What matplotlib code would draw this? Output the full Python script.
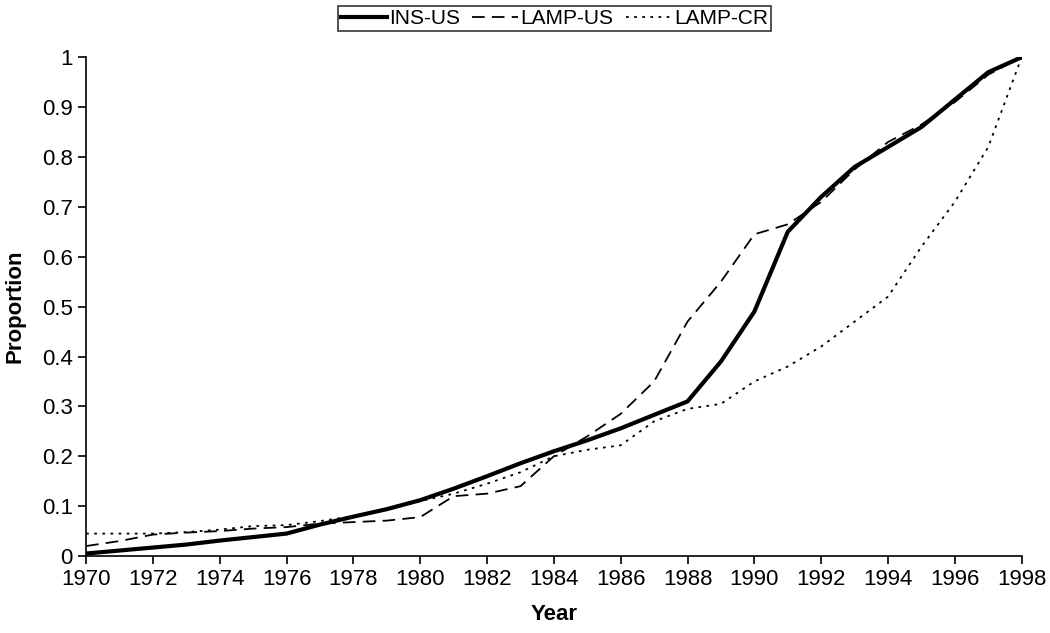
import matplotlib.pyplot as plt

plt.rcParams['font.family'] = ['Liberation Sans', 'DejaVu Sans']

years = [1970, 1971, 1972, 1973, 1974, 1975, 1976, 1977, 1978, 1979, 1980, 1981, 1982, 1983,
         1984, 1985, 1986, 1987, 1988, 1989, 1990, 1991, 1992, 1993, 1994, 1995, 1996, 1997, 1998]

ins_us = [0.005, 0.011, 0.017, 0.023, 0.031, 0.038, 0.045, 0.063, 0.079, 0.094, 0.112, 0.135,
          0.16, 0.186, 0.21, 0.232, 0.256, 0.283, 0.31, 0.39, 0.49, 0.65, 0.72, 0.78, 0.82,
          0.86, 0.915, 0.97, 1.0]
lamp_us = [0.02, 0.03, 0.043, 0.047, 0.05, 0.055, 0.058, 0.065, 0.068, 0.071, 0.078, 0.12,
           0.125, 0.14, 0.2, 0.24, 0.285, 0.35, 0.47, 0.55, 0.645, 0.665, 0.71, 0.775, 0.83,
           0.865, 0.91, 0.965, 1.0]
lamp_cr = [0.045, 0.045, 0.045, 0.048, 0.053, 0.06, 0.062, 0.07, 0.08, 0.092, 0.11, 0.125,
           0.145, 0.168, 0.2, 0.213, 0.222, 0.27, 0.295, 0.305, 0.35, 0.38, 0.42, 0.47, 0.52,
           0.62, 0.71, 0.82, 1.0]

fig = plt.figure(figsize=(10.5, 6.33), dpi=100)
ax = fig.add_axes([0.082, 0.1216, 0.891, 0.788])

ax.plot(years, ins_us, color='black', lw=3, label='INS-US')
ax.plot(years, lamp_us, color='black', lw=1.3, ls=(0, (7, 4)), label='LAMP-US')
ax.plot(years, lamp_cr, color='black', lw=1.3, ls=(0, (1.5, 3)), label='LAMP-CR')

ax.set_xlim(1970, 1998)
ax.set_ylim(0, 1)
ax.set_xticks(range(1970, 1999, 2))
ax.set_yticks([i / 10 for i in range(11)])
ax.set_yticklabels(['0', '0.1', '0.2', '0.3', '0.4', '0.5', '0.6', '0.7', '0.8', '0.9', '1'])
ax.tick_params(labelsize=16, direction='out', length=6, width=1.2)
ax.spines['top'].set_visible(False)
ax.spines['right'].set_visible(False)
ax.spines['left'].set_linewidth(1.2)
ax.spines['bottom'].set_linewidth(1.2)

ax.set_xlabel('Year', fontsize=16, fontweight='bold', labelpad=10)
ax.set_ylabel('Proportion', fontsize=16, fontweight='bold', labelpad=12)

leg = fig.legend(loc='center', bbox_to_anchor=(0.528, 0.971), ncol=3, fontsize=15,
                 frameon=True, fancybox=False, edgecolor='black', handlelength=2.2,
                 handletextpad=0.1, columnspacing=0.6, borderpad=0.15)
leg.get_frame().set_linewidth(1.2)

fig.savefig('out.png', dpi=100)
